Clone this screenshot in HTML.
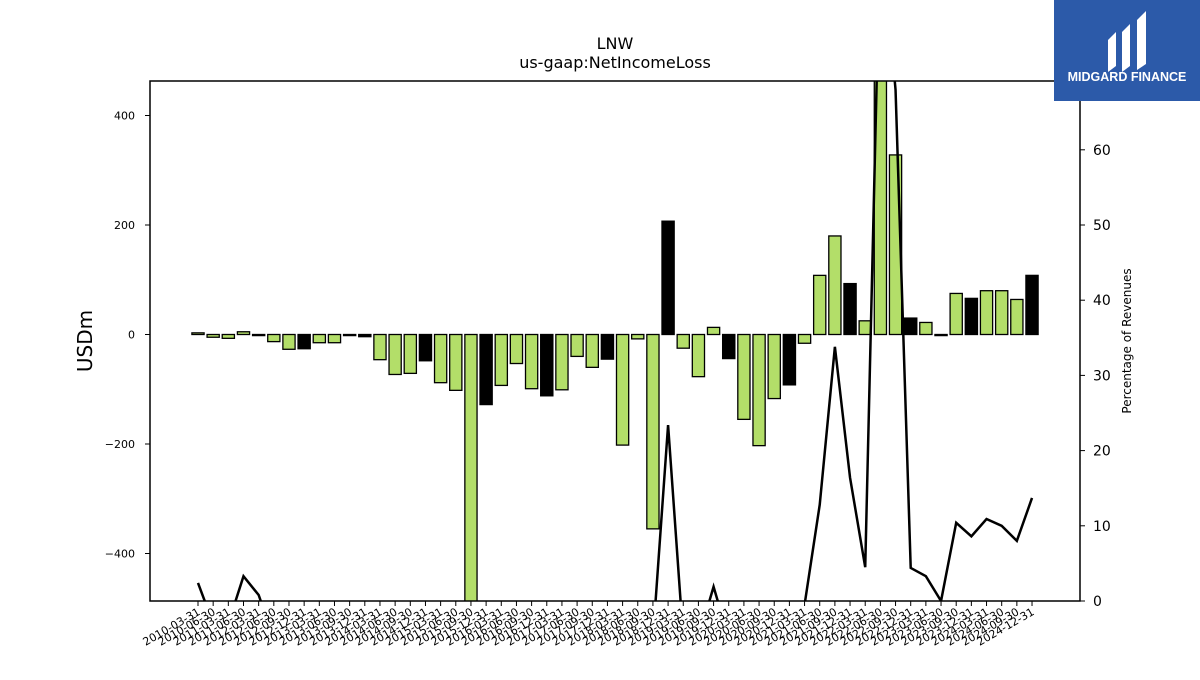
<!DOCTYPE html>
<html><head><meta charset="utf-8"><style>
body{margin:0;background:#fff;font-family:"Liberation Sans","DejaVu Sans",sans-serif;}
</style></head><body>
<svg id="chart" width="1200" height="675" xmlns="http://www.w3.org/2000/svg" font-family="DejaVu Sans, Liberation Sans, sans-serif">
<rect width="1200" height="675" fill="#fff"/>
<text x="615" y="49" text-anchor="middle" font-size="16">LNW</text>
<text x="615" y="68" text-anchor="middle" font-size="16">us-gaap:NetIncomeLoss</text>
<text transform="translate(92,341) rotate(-90)" text-anchor="middle" font-size="20">USDm</text>
<text transform="translate(1131,341) rotate(-90)" text-anchor="middle" font-size="12">Percentage of Revenues</text>
<defs><clipPath id="pc"><rect x="150" y="81" width="930" height="520"/></clipPath></defs>
<g id="bars" clip-path="url(#pc)"></g>
<g id="line" clip-path="url(#pc)"></g>
<g id="axes"></g>
<rect x="150" y="81" width="930" height="520" fill="none" stroke="#000" stroke-width="1.5"/>
<g>
<rect x="1054" y="0" width="146" height="101" fill="#2c5aa9"/>
<path d="M1108 40 L1116 32 L1116 66 L1108 72 Z M1122 32 L1130 24 L1130 66 L1122 72 Z M1137 20 L1146 11 L1146 64 L1137 70 Z" fill="#fff"/>
<text x="1127" y="81" text-anchor="middle" font-size="12.5" font-weight="bold" fill="#fff" font-family="Liberation Sans, sans-serif">MIDGARD FINANCE</text>
</g>
</svg>
<script>
const categories = (function(){const a=["2010-03-31","2010-06-30","2011-03-31","2011-06-30"];for(let y=2012;y<=2024;y++){a.push(y+"-03-31",y+"-06-30",y+"-09-30",y+"-12-31");}return a;})();
const netIncome = [3,-5,-7,5,-2,-13,-27,-26,-15,-15,-2,-4,-46,-73,-71,-48,-88,-102,-490,-128,-93,-53,-99,-112,-101,-40,-60,-45,-202,-8,-355,207,-25,-77,13,-44,-155,-203,-117,-92,-16,108,180,93,25,480,328,30,22,-2,75,66,80,80,64,108];
const barBlack = [0,0,0,0,1,0,0,1,0,0,1,1,0,0,0,1,0,0,0,1,0,0,0,1,0,0,0,1,0,0,0,1,0,0,0,1,0,0,0,1,0,0,0,1,0,0,0,1,0,1,0,1,0,0,0,1];
const pctRevenue = [2.4,-3,-3,3.3,0.8,-5,-5,-5,-5,-5,-5,-5,-5,-5,-5,-5,-5,-5,-5,-5,-5,-5,-5,-5,-5,-5,-5,-5,-5,-5,-5,23.4,-5,-5,1.9,-5,-5,-5,-5,-5,-0.5,12.8,33.8,16.4,4.5,90,68,4.4,3.3,0,10.4,8.6,10.9,10.0,8.0,13.7];
const leftTicks = [-400,-200,0,200,400];
const rightTicks = [0,10,20,30,40,50,60];
const NS="http://www.w3.org/2000/svg";
const x0=198, dx=15.164;
function xs(i){return x0+i*dx;}
function yL(v){return 334.5-v*0.5475;}
function yR(v){return 601-v*7.52;}
function mk(t,attrs,parent){const e=document.createElementNS(NS,t);for(const k in attrs)e.setAttribute(k,attrs[k]);parent.appendChild(e);return e;}
const bars=document.getElementById('bars'), line=document.getElementById('line'), axes=document.getElementById('axes');
netIncome.forEach((v,i)=>{
  const y1=yL(Math.max(v,0)), y2=yL(Math.min(v,0));
  const r=mk('rect',{x:xs(i)-6.1,y:y1,width:12.2,height:Math.max(y2-y1,0.5),fill:barBlack[i]?'#000':'#b3de69',stroke:'#000','stroke-width':1.3},bars);
  
  
});
const pl=mk('polyline',{points:pctRevenue.map((v,i)=>xs(i)+','+yR(v)).join(' '),fill:'none',stroke:'#000','stroke-width':2.5},line);


leftTicks.forEach(v=>{
  mk('line',{x1:145,x2:150,y1:yL(v),y2:yL(v),stroke:'#000'},axes);
  const t=mk('text',{x:135,y:yL(v)+4,'text-anchor':'end','font-size':11},axes);
  t.textContent=v<0?'\u2212'+(-v):v;
  
  
});
rightTicks.forEach(v=>{
  mk('line',{x1:1080,x2:1085,y1:yR(v),y2:yR(v),stroke:'#000'},axes);
  const t=mk('text',{x:1093,y:yR(v)+5,'font-size':14},axes);
  t.textContent=v;
  
  
});
categories.forEach((c,i)=>{
  const x=xs(i);
  mk('line',{x1:x,x2:x,y1:601,y2:606,stroke:'#000'},axes);
  const t=mk('text',{x:x+3,y:614,'text-anchor':'end','font-size':11,transform:'rotate(-30 '+(x+3)+' 614)'},axes);
  t.textContent=c;
  
  
});
</script>
</body></html>
